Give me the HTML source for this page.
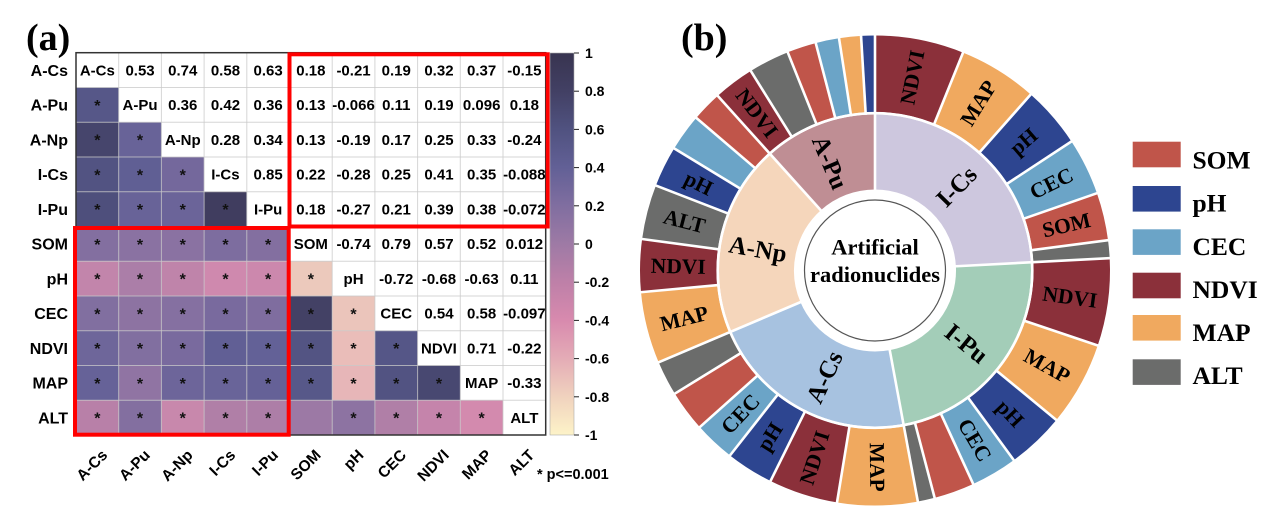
<!DOCTYPE html>
<html>
<head>
<meta charset="utf-8">
<style>
html,body{margin:0;padding:0;background:#fff;width:1276px;height:517px;overflow:hidden;}
svg{display:block;}
.hm{font-family:"Liberation Sans",Arial,sans-serif;font-weight:bold;}
.tr{font-family:"Liberation Serif","Times New Roman",serif;font-weight:bold;}
</style>
</head>
<body>
<svg width="1276" height="517" viewBox="0 0 1276 517" xmlns="http://www.w3.org/2000/svg">
<defs>
<linearGradient id="cb" x1="0" y1="0" x2="0" y2="1">
<stop offset="0" stop-color="#383450"/>
<stop offset="0.1" stop-color="#424064"/>
<stop offset="0.2" stop-color="#505280"/>
<stop offset="0.3" stop-color="#626096"/>
<stop offset="0.4" stop-color="#806ea0"/>
<stop offset="0.5" stop-color="#9e7aa5"/>
<stop offset="0.6" stop-color="#be80a8"/>
<stop offset="0.7" stop-color="#d88aae"/>
<stop offset="0.8" stop-color="#e4acb6"/>
<stop offset="0.9" stop-color="#f0d2be"/>
<stop offset="1" stop-color="#fdf3c8"/>
</linearGradient>
</defs>
<rect width="1276" height="517" fill="#fff"/>

<!-- ===== (a) heatmap ===== -->
<text class="tr" x="26" y="50" font-size="38">(a)</text>

<g>
<rect x="76" y="87.45" width="42.7" height="34.75" fill="#565788"/>
<rect x="76" y="122.2" width="42.7" height="34.75" fill="#46456c"/>
<rect x="118.7" y="122.2" width="42.7" height="34.75" fill="#686398"/>
<rect x="76" y="156.95" width="42.7" height="34.75" fill="#525382"/>
<rect x="118.7" y="156.95" width="42.7" height="34.75" fill="#605f94"/>
<rect x="161.4" y="156.95" width="42.7" height="34.75" fill="#74689c"/>
<rect x="76" y="191.7" width="42.7" height="34.75" fill="#4e4f7c"/>
<rect x="118.7" y="191.7" width="42.7" height="34.75" fill="#686398"/>
<rect x="161.4" y="191.7" width="42.7" height="34.75" fill="#6b6499"/>
<rect x="204.1" y="191.7" width="42.7" height="34.75" fill="#403d5f"/>
<rect x="76" y="226.45" width="42.7" height="34.75" fill="#836fa0"/>
<rect x="118.7" y="226.45" width="42.7" height="34.75" fill="#8a72a2"/>
<rect x="161.4" y="226.45" width="42.7" height="34.75" fill="#8a72a2"/>
<rect x="204.1" y="226.45" width="42.7" height="34.75" fill="#7d6d9f"/>
<rect x="246.8" y="226.45" width="42.7" height="34.75" fill="#836fa0"/>
<rect x="76" y="261.2" width="42.7" height="34.75" fill="#c285ab"/>
<rect x="118.7" y="261.2" width="42.7" height="34.75" fill="#ab7ea8"/>
<rect x="161.4" y="261.2" width="42.7" height="34.75" fill="#bf84aa"/>
<rect x="204.1" y="261.2" width="42.7" height="34.75" fill="#cf89ae"/>
<rect x="246.8" y="261.2" width="42.7" height="34.75" fill="#cc88ad"/>
<rect x="289.5" y="261.2" width="42.7" height="34.75" fill="#ecc9bc"/>
<rect x="76" y="295.95" width="42.7" height="34.75" fill="#816fa0"/>
<rect x="118.7" y="295.95" width="42.7" height="34.75" fill="#8d73a2"/>
<rect x="161.4" y="295.95" width="42.7" height="34.75" fill="#8570a1"/>
<rect x="204.1" y="295.95" width="42.7" height="34.75" fill="#796a9e"/>
<rect x="246.8" y="295.95" width="42.7" height="34.75" fill="#7f6d9f"/>
<rect x="289.5" y="295.95" width="42.7" height="34.75" fill="#434165"/>
<rect x="332.2" y="295.95" width="42.7" height="34.75" fill="#ebc5bb"/>
<rect x="76" y="330.7" width="42.7" height="34.75" fill="#6e669a"/>
<rect x="118.7" y="330.7" width="42.7" height="34.75" fill="#816fa0"/>
<rect x="161.4" y="330.7" width="42.7" height="34.75" fill="#796a9e"/>
<rect x="204.1" y="330.7" width="42.7" height="34.75" fill="#615f95"/>
<rect x="246.8" y="330.7" width="42.7" height="34.75" fill="#636197"/>
<rect x="289.5" y="330.7" width="42.7" height="34.75" fill="#535483"/>
<rect x="332.2" y="330.7" width="42.7" height="34.75" fill="#eabdb9"/>
<rect x="374.9" y="330.7" width="42.7" height="34.75" fill="#555687"/>
<rect x="76" y="365.45" width="42.7" height="34.75" fill="#666298"/>
<rect x="118.7" y="365.45" width="42.7" height="34.75" fill="#9074a3"/>
<rect x="161.4" y="365.45" width="42.7" height="34.75" fill="#6d659a"/>
<rect x="204.1" y="365.45" width="42.7" height="34.75" fill="#696499"/>
<rect x="246.8" y="365.45" width="42.7" height="34.75" fill="#656197"/>
<rect x="289.5" y="365.45" width="42.7" height="34.75" fill="#575889"/>
<rect x="332.2" y="365.45" width="42.7" height="34.75" fill="#e7b6b8"/>
<rect x="374.9" y="365.45" width="42.7" height="34.75" fill="#525382"/>
<rect x="417.6" y="365.45" width="42.7" height="34.75" fill="#484871"/>
<rect x="76" y="400.2" width="42.7" height="34.75" fill="#b880a8"/>
<rect x="118.7" y="400.2" width="42.7" height="34.75" fill="#836fa0"/>
<rect x="161.4" y="400.2" width="42.7" height="34.75" fill="#c888ac"/>
<rect x="204.1" y="400.2" width="42.7" height="34.75" fill="#b07fa7"/>
<rect x="246.8" y="400.2" width="42.7" height="34.75" fill="#ad7ea7"/>
<rect x="289.5" y="400.2" width="42.7" height="34.75" fill="#9c79a5"/>
<rect x="332.2" y="400.2" width="42.7" height="34.75" fill="#8d73a2"/>
<rect x="374.9" y="400.2" width="42.7" height="34.75" fill="#b07fa7"/>
<rect x="417.6" y="400.2" width="42.7" height="34.75" fill="#c584ab"/>
<rect x="460.3" y="400.2" width="42.7" height="34.75" fill="#d38aae"/>
</g>

<g stroke="#c8c8c8" stroke-opacity="0.75" stroke-width="1">
<line x1="118.7" y1="52.7" x2="118.7" y2="435"/>
<line x1="161.4" y1="52.7" x2="161.4" y2="435"/>
<line x1="204.1" y1="52.7" x2="204.1" y2="435"/>
<line x1="246.8" y1="52.7" x2="246.8" y2="435"/>
<line x1="289.5" y1="52.7" x2="289.5" y2="435"/>
<line x1="332.2" y1="52.7" x2="332.2" y2="435"/>
<line x1="374.9" y1="52.7" x2="374.9" y2="435"/>
<line x1="417.6" y1="52.7" x2="417.6" y2="435"/>
<line x1="460.3" y1="52.7" x2="460.3" y2="435"/>
<line x1="503" y1="52.7" x2="503" y2="435"/>
<line x1="76" y1="87.45" x2="545.7" y2="87.45"/>
<line x1="76" y1="122.2" x2="545.7" y2="122.2"/>
<line x1="76" y1="156.95" x2="545.7" y2="156.95"/>
<line x1="76" y1="191.7" x2="545.7" y2="191.7"/>
<line x1="76" y1="226.45" x2="545.7" y2="226.45"/>
<line x1="76" y1="261.2" x2="545.7" y2="261.2"/>
<line x1="76" y1="295.95" x2="545.7" y2="295.95"/>
<line x1="76" y1="330.7" x2="545.7" y2="330.7"/>
<line x1="76" y1="365.45" x2="545.7" y2="365.45"/>
<line x1="76" y1="400.2" x2="545.7" y2="400.2"/>
</g>
<rect x="76" y="52.7" width="469.7" height="382.3" fill="none" stroke="#333" stroke-width="1.5"/>

<g class="hm" font-size="16" text-anchor="middle" fill="#111">
<text x="97.35" y="110.8">*</text>
<text x="97.35" y="145.6">*</text><text x="140.05" y="145.6">*</text>
<text x="97.35" y="180.3">*</text><text x="140.05" y="180.3">*</text><text x="182.75" y="180.3">*</text>
<text x="97.35" y="215.1">*</text><text x="140.05" y="215.1">*</text><text x="182.75" y="215.1">*</text><text x="225.45" y="215.1">*</text>
<text x="97.35" y="249.8">*</text><text x="140.05" y="249.8">*</text><text x="182.75" y="249.8">*</text><text x="225.45" y="249.8">*</text><text x="268.15" y="249.8">*</text>
<text x="97.35" y="284.6">*</text><text x="140.05" y="284.6">*</text><text x="182.75" y="284.6">*</text><text x="225.45" y="284.6">*</text><text x="268.15" y="284.6">*</text><text x="310.85" y="284.6">*</text>
<text x="97.35" y="319.3">*</text><text x="140.05" y="319.3">*</text><text x="182.75" y="319.3">*</text><text x="225.45" y="319.3">*</text><text x="268.15" y="319.3">*</text><text x="310.85" y="319.3">*</text><text x="353.55" y="319.3">*</text>
<text x="97.35" y="354.1">*</text><text x="140.05" y="354.1">*</text><text x="182.75" y="354.1">*</text><text x="225.45" y="354.1">*</text><text x="268.15" y="354.1">*</text><text x="310.85" y="354.1">*</text><text x="353.55" y="354.1">*</text><text x="396.25" y="354.1">*</text>
<text x="97.35" y="388.8">*</text><text x="140.05" y="388.8">*</text><text x="182.75" y="388.8">*</text><text x="225.45" y="388.8">*</text><text x="268.15" y="388.8">*</text><text x="310.85" y="388.8">*</text><text x="353.55" y="388.8">*</text><text x="396.25" y="388.8">*</text><text x="438.95" y="388.8">*</text>
<text x="97.35" y="423.6">*</text><text x="140.05" y="423.6">*</text><text x="182.75" y="423.6">*</text><text x="225.45" y="423.6">*</text><text x="268.15" y="423.6">*</text><text x="353.55" y="423.6">*</text><text x="396.25" y="423.6">*</text><text x="438.95" y="423.6">*</text><text x="481.65" y="423.6">*</text>
</g>

<g class="hm" font-size="15" text-anchor="middle" fill="#000">
<text x="97.35" y="75.4">A-Cs</text><text x="140.05" y="75.4">0.53</text><text x="182.75" y="75.4">0.74</text><text x="225.45" y="75.4">0.58</text><text x="268.15" y="75.4">0.63</text><text x="310.85" y="75.4">0.18</text><text x="353.55" y="75.4">-0.21</text><text x="396.25" y="75.4">0.19</text><text x="438.95" y="75.4">0.32</text><text x="481.65" y="75.4">0.37</text><text x="524.35" y="75.4">-0.15</text>
<text x="140.05" y="110.1">A-Pu</text><text x="182.75" y="110.1">0.36</text><text x="225.45" y="110.1">0.42</text><text x="268.15" y="110.1">0.36</text><text x="310.85" y="110.1">0.13</text><text x="353.55" y="110.1">-0.066</text><text x="396.25" y="110.1">0.11</text><text x="438.95" y="110.1">0.19</text><text x="481.65" y="110.1">0.096</text><text x="524.35" y="110.1">0.18</text>
<text x="182.75" y="144.9">A-Np</text><text x="225.45" y="144.9">0.28</text><text x="268.15" y="144.9">0.34</text><text x="310.85" y="144.9">0.13</text><text x="353.55" y="144.9">-0.19</text><text x="396.25" y="144.9">0.17</text><text x="438.95" y="144.9">0.25</text><text x="481.65" y="144.9">0.33</text><text x="524.35" y="144.9">-0.24</text>
<text x="225.45" y="179.6">I-Cs</text><text x="268.15" y="179.6">0.85</text><text x="310.85" y="179.6">0.22</text><text x="353.55" y="179.6">-0.28</text><text x="396.25" y="179.6">0.25</text><text x="438.95" y="179.6">0.41</text><text x="481.65" y="179.6">0.35</text><text x="524.35" y="179.6">-0.088</text>
<text x="268.15" y="214.4">I-Pu</text><text x="310.85" y="214.4">0.18</text><text x="353.55" y="214.4">-0.27</text><text x="396.25" y="214.4">0.21</text><text x="438.95" y="214.4">0.39</text><text x="481.65" y="214.4">0.38</text><text x="524.35" y="214.4">-0.072</text>
<text x="310.85" y="249.1">SOM</text><text x="353.55" y="249.1">-0.74</text><text x="396.25" y="249.1">0.79</text><text x="438.95" y="249.1">0.57</text><text x="481.65" y="249.1">0.52</text><text x="524.35" y="249.1">0.012</text>
<text x="353.55" y="283.9">pH</text><text x="396.25" y="283.9">-0.72</text><text x="438.95" y="283.9">-0.68</text><text x="481.65" y="283.9">-0.63</text><text x="524.35" y="283.9">0.11</text>
<text x="396.25" y="318.6">CEC</text><text x="438.95" y="318.6">0.54</text><text x="481.65" y="318.6">0.58</text><text x="524.35" y="318.6">-0.097</text>
<text x="438.95" y="353.4">NDVI</text><text x="481.65" y="353.4">0.71</text><text x="524.35" y="353.4">-0.22</text>
<text x="481.65" y="388.1">MAP</text><text x="524.35" y="388.1">-0.33</text>
<text x="524.35" y="422.9">ALT</text>
</g>

<g class="hm" font-size="16" text-anchor="end" fill="#000">
<text x="68" y="75.8">A-Cs</text>
<text x="68" y="110.6">A-Pu</text>
<text x="68" y="145.3">A-Np</text>
<text x="68" y="180.1">I-Cs</text>
<text x="68" y="214.8">I-Pu</text>
<text x="68" y="249.6">SOM</text>
<text x="68" y="284.3">pH</text>
<text x="68" y="319.1">CEC</text>
<text x="68" y="353.8">NDVI</text>
<text x="68" y="388.6">MAP</text>
<text x="68" y="423.3">ALT</text>
</g>

<g class="hm" font-size="15.5" text-anchor="end" fill="#000">
<text transform="translate(108.3,456) rotate(-45)">A-Cs</text>
<text transform="translate(151,456) rotate(-45)">A-Pu</text>
<text transform="translate(193.7,456) rotate(-45)">A-Np</text>
<text transform="translate(236.4,456) rotate(-45)">I-Cs</text>
<text transform="translate(279.1,456) rotate(-45)">I-Pu</text>
<text transform="translate(321.8,456) rotate(-45)">SOM</text>
<text transform="translate(364.5,456) rotate(-45)">pH</text>
<text transform="translate(407.2,456) rotate(-45)">CEC</text>
<text transform="translate(449.9,456) rotate(-45)">NDVI</text>
<text transform="translate(492.6,456) rotate(-45)">MAP</text>
<text transform="translate(535.3,456) rotate(-45)">ALT</text>
</g>
<text class="hm" x="537" y="479" font-size="14.5" fill="#000">* p&lt;=0.001</text>

<rect x="289.5" y="54.3" width="258.3" height="172.2" fill="none" stroke="#ff0000" stroke-width="4"/>
<rect x="75" y="228" width="213.7" height="206.7" fill="none" stroke="#ff0000" stroke-width="4"/>

<rect x="550" y="53" width="24" height="382" fill="url(#cb)" stroke="#aaa" stroke-width="0.6"/>
<g stroke="#222" stroke-width="1">
<line x1="574" y1="53" x2="579" y2="53"/>
<line x1="574" y1="91.2" x2="579" y2="91.2"/>
<line x1="574" y1="129.4" x2="579" y2="129.4"/>
<line x1="574" y1="167.6" x2="579" y2="167.6"/>
<line x1="574" y1="205.8" x2="579" y2="205.8"/>
<line x1="574" y1="244" x2="579" y2="244"/>
<line x1="574" y1="282.2" x2="579" y2="282.2"/>
<line x1="574" y1="320.4" x2="579" y2="320.4"/>
<line x1="574" y1="358.6" x2="579" y2="358.6"/>
<line x1="574" y1="396.8" x2="579" y2="396.8"/>
<line x1="574" y1="435" x2="579" y2="435"/>
</g>
<g class="hm" font-size="14" fill="#000">
<text x="585" y="58">1</text>
<text x="585" y="96.2">0.8</text>
<text x="585" y="134.4">0.6</text>
<text x="585" y="172.6">0.4</text>
<text x="585" y="210.8">0.2</text>
<text x="585" y="249">0</text>
<text x="585" y="287.2">-0.2</text>
<text x="585" y="325.4">-0.4</text>
<text x="585" y="363.6">-0.6</text>
<text x="585" y="401.8">-0.8</text>
<text x="585" y="440">-1</text>
</g>

<!-- ===== (b) donut ===== -->
<text class="tr" x="681" y="50" font-size="38">(b)</text>

<g transform="translate(875,270.5)">
<g fill="none" stroke-width="75">
<circle r="118.5" stroke="#cdc7de" stroke-dasharray="180.5 2000" transform="rotate(-90)"/>
<circle r="118.5" stroke="#a3cdb8" stroke-dasharray="171 2000" transform="rotate(-3)"/>
<circle r="118.5" stroke="#a7c2e0" stroke-dasharray="160.8 2000" transform="rotate(79.5)"/>
<circle r="118.5" stroke="#f5d6bb" stroke-dasharray="147.3 2000" transform="rotate(157)"/>
<circle r="118.5" stroke="#bf8e94" stroke-dasharray="87.4 2000" transform="rotate(228)"/>
</g>
<g fill="none" stroke-width="76.5">
<circle r="196.75" stroke="#8b303a" stroke-dasharray="76 2000" transform="rotate(-90)"/>
<circle r="196.75" stroke="#f0a95f" stroke-dasharray="67.5 2000" transform="rotate(-68)"/>
<circle r="196.75" stroke="#2d4590" stroke-dasharray="52.7 2000" transform="rotate(-48.5)"/>
<circle r="196.75" stroke="#6ba4c7" stroke-dasharray="48.9 2000" transform="rotate(-33.3)"/>
<circle r="196.75" stroke="#c0554a" stroke-dasharray="41 2000" transform="rotate(-19.2)"/>
<circle r="196.75" stroke="#6b6c6b" stroke-dasharray="15.6 2000" transform="rotate(-7.4)"/>

<circle r="196.75" stroke="#8b303a" stroke-dasharray="74.7 2000" transform="rotate(-3)"/>
<circle r="196.75" stroke="#f0a95f" stroke-dasharray="72.3 2000" transform="rotate(18.6)"/>
<circle r="196.75" stroke="#2d4590" stroke-dasharray="49.6 2000" transform="rotate(39.5)"/>
<circle r="196.75" stroke="#6ba4c7" stroke-dasharray="40 2000" transform="rotate(53.8)"/>
<circle r="196.75" stroke="#c0554a" stroke-dasharray="34.8 2000" transform="rotate(65.3)"/>
<circle r="196.75" stroke="#6b6c6b" stroke-dasharray="14.9 2000" transform="rotate(75.3)"/>

<circle r="196.75" stroke="#f0a95f" stroke-dasharray="68.5 2000" transform="rotate(79.5)"/>
<circle r="196.75" stroke="#8b303a" stroke-dasharray="59.2 2000" transform="rotate(99.3)"/>
<circle r="196.75" stroke="#2d4590" stroke-dasharray="40.7 2000" transform="rotate(116.4)"/>
<circle r="196.75" stroke="#6ba4c7" stroke-dasharray="35.2 2000" transform="rotate(128.1)"/>
<circle r="196.75" stroke="#c0554a" stroke-dasharray="35.5 2000" transform="rotate(138.2)"/>
<circle r="196.75" stroke="#6b6c6b" stroke-dasharray="30 2000" transform="rotate(148.4)"/>

<circle r="196.75" stroke="#f0a95f" stroke-dasharray="61.3 2000" transform="rotate(157)"/>
<circle r="196.75" stroke="#8b303a" stroke-dasharray="45.1 2000" transform="rotate(174.7)"/>
<circle r="196.75" stroke="#6b6c6b" stroke-dasharray="46.9 2000" transform="rotate(187.7)"/>
<circle r="196.75" stroke="#2d4590" stroke-dasharray="35.2 2000" transform="rotate(201.2)"/>
<circle r="196.75" stroke="#6ba4c7" stroke-dasharray="32.1 2000" transform="rotate(211.3)"/>
<circle r="196.75" stroke="#c0554a" stroke-dasharray="26.3 2000" transform="rotate(220.5)"/>

<circle r="196.75" stroke="#8b303a" stroke-dasharray="35.2 2000" transform="rotate(228)"/>
<circle r="196.75" stroke="#6b6c6b" stroke-dasharray="35.2 2000" transform="rotate(238.1)"/>
<circle r="196.75" stroke="#c0554a" stroke-dasharray="25.2 2000" transform="rotate(248.2)"/>
<circle r="196.75" stroke="#6ba4c7" stroke-dasharray="20.4 2000" transform="rotate(255.4)"/>
<circle r="196.75" stroke="#f0a95f" stroke-dasharray="19 2000" transform="rotate(261.2)"/>
<circle r="196.75" stroke="#2d4590" stroke-dasharray="12.2 2000" transform="rotate(266.6)"/>
</g>

<circle r="157.3" fill="none" stroke="#fff" stroke-width="2.6"/>

<g stroke="#fff" stroke-width="2.6">
<line x1="0" y1="-79" x2="0" y2="-237" transform="rotate(0)"/>
<line x1="0" y1="-79" x2="0" y2="-237" transform="rotate(87)"/>
<line x1="0" y1="-79" x2="0" y2="-237" transform="rotate(169.5)"/>
<line x1="0" y1="-79" x2="0" y2="-237" transform="rotate(247)"/>
<line x1="0" y1="-79" x2="0" y2="-237" transform="rotate(318)"/>
<line x1="0" y1="-156" x2="0" y2="-237" transform="rotate(22)"/>
<line x1="0" y1="-156" x2="0" y2="-237" transform="rotate(41.5)"/>
<line x1="0" y1="-156" x2="0" y2="-237" transform="rotate(56.7)"/>
<line x1="0" y1="-156" x2="0" y2="-237" transform="rotate(70.8)"/>
<line x1="0" y1="-156" x2="0" y2="-237" transform="rotate(82.6)"/>
<line x1="0" y1="-156" x2="0" y2="-237" transform="rotate(108.6)"/>
<line x1="0" y1="-156" x2="0" y2="-237" transform="rotate(129.5)"/>
<line x1="0" y1="-156" x2="0" y2="-237" transform="rotate(143.8)"/>
<line x1="0" y1="-156" x2="0" y2="-237" transform="rotate(155.3)"/>
<line x1="0" y1="-156" x2="0" y2="-237" transform="rotate(165.3)"/>
<line x1="0" y1="-156" x2="0" y2="-237" transform="rotate(189.3)"/>
<line x1="0" y1="-156" x2="0" y2="-237" transform="rotate(206.4)"/>
<line x1="0" y1="-156" x2="0" y2="-237" transform="rotate(218.1)"/>
<line x1="0" y1="-156" x2="0" y2="-237" transform="rotate(228.2)"/>
<line x1="0" y1="-156" x2="0" y2="-237" transform="rotate(238.4)"/>
<line x1="0" y1="-156" x2="0" y2="-237" transform="rotate(264.7)"/>
<line x1="0" y1="-156" x2="0" y2="-237" transform="rotate(277.7)"/>
<line x1="0" y1="-156" x2="0" y2="-237" transform="rotate(291.2)"/>
<line x1="0" y1="-156" x2="0" y2="-237" transform="rotate(301.3)"/>
<line x1="0" y1="-156" x2="0" y2="-237" transform="rotate(310.5)"/>
<line x1="0" y1="-156" x2="0" y2="-237" transform="rotate(328.1)"/>
<line x1="0" y1="-156" x2="0" y2="-237" transform="rotate(338.2)"/>
<line x1="0" y1="-156" x2="0" y2="-237" transform="rotate(345.4)"/>
<line x1="0" y1="-156" x2="0" y2="-237" transform="rotate(351.2)"/>
<line x1="0" y1="-156" x2="0" y2="-237" transform="rotate(356.6)"/>
</g>

<circle r="70.5" fill="#fff" stroke="#555" stroke-width="1.2"/>
<text class="tr" x="0" y="-16" font-size="22.5" text-anchor="middle" fill="#000">Artificial</text>
<text class="tr" x="0" y="11.5" font-size="22.5" text-anchor="middle" fill="#000">radionuclides</text>

<g class="tr" font-size="25" text-anchor="middle" dominant-baseline="central" fill="#000">
<text transform="rotate(44.5) translate(0,-117) rotate(-90)">I-Cs</text>
<text transform="rotate(129) translate(0,-117) rotate(-90)">I-Pu</text>
<text transform="rotate(205) translate(0,-118) rotate(90)">A-Cs</text>
<text transform="rotate(280) translate(0,-119) rotate(90)">A-Np</text>
<text transform="rotate(337) translate(0,-117) rotate(90)">A-Pu</text>
</g>

<g class="tr" font-size="21.5" text-anchor="middle" dominant-baseline="central" fill="#000">
<text transform="rotate(11) translate(0,-196.75) rotate(-90)">NDVI</text>
<text transform="rotate(31.75) translate(0,-196.75) rotate(-90)">MAP</text>
<text transform="rotate(49.1) translate(0,-196.75) rotate(-90)">pH</text>
<text transform="rotate(63.75) translate(0,-196.75) rotate(-90)">CEC</text>
<text transform="rotate(76.7) translate(0,-196.75) rotate(-90)">SOM</text>
<text transform="rotate(97.8) translate(0,-196.75) rotate(-90)">NDVI</text>
<text transform="rotate(119.05) translate(0,-196.75) rotate(-90)">MAP</text>
<text transform="rotate(136.65) translate(0,-196.75) rotate(-90)">pH</text>
<text transform="rotate(149.55) translate(0,-196.75) rotate(-90)">CEC</text>
<text transform="rotate(179.4) translate(0,-196.75) rotate(-90)">MAP</text>
<text transform="rotate(197.85) translate(0,-196.75) rotate(90)">NDVI</text>
<text transform="rotate(212.25) translate(0,-196.75) rotate(90)">pH</text>
<text transform="rotate(223.15) translate(0,-196.75) rotate(90)">CEC</text>
<text transform="rotate(255.85) translate(0,-196.75) rotate(90)">MAP</text>
<text transform="rotate(271.2) translate(0,-196.75) rotate(90)">NDVI</text>
<text transform="rotate(284.45) translate(0,-196.75) rotate(90)">ALT</text>
<text transform="rotate(296.25) translate(0,-196.75) rotate(90)">pH</text>
<text transform="rotate(323.05) translate(0,-196.75) rotate(90)">NDVI</text>
</g>
</g>

<g>
<rect x="1132.7" y="141.7" width="48" height="25.6" fill="#c0554a"/>
<rect x="1132.7" y="186" width="48" height="25.6" fill="#2d4590"/>
<rect x="1132.7" y="229.3" width="48" height="25.6" fill="#6ba4c7"/>
<rect x="1132.7" y="272.7" width="48" height="25.6" fill="#8b303a"/>
<rect x="1132.7" y="315" width="48" height="25.6" fill="#f0a95f"/>
<rect x="1132.7" y="359.3" width="48" height="25.6" fill="#6b6c6b"/>
</g>
<g class="tr" font-size="25.5" fill="#000">
<text x="1192.5" y="168.5">SOM</text>
<text x="1192.5" y="211.5">pH</text>
<text x="1192.5" y="255">CEC</text>
<text x="1192.5" y="297.8">NDVI</text>
<text x="1192.5" y="341">MAP</text>
<text x="1192.5" y="384">ALT</text>
</g>
</svg>
</body>
</html>
